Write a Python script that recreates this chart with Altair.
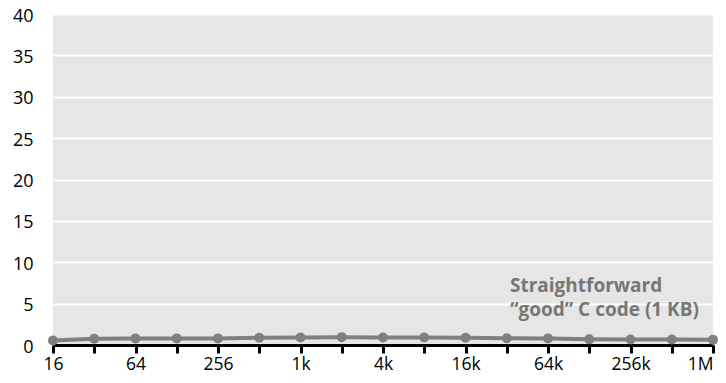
import altair as alt
import pandas as pd

sizes = ["16", "32", "64", "128", "256", "512", "1k", "2k", "4k", "8k", "16k", "32k", "64k", "128k", "256k", "512k", "1M"]
perf = [0.55, 0.75, 0.8, 0.8, 0.8, 0.88, 0.9, 0.95, 0.9, 0.9, 0.88, 0.82, 0.8, 0.68, 0.66, 0.66, 0.62]
note_lines = ["Straightforward", "\u201cgood\u201d C code (1 KB)"]

df = pd.DataFrame({"i": list(range(len(sizes))), "size": sizes, "perf": perf})

label_arr = "[" + ",".join("'" + s + "'" for s in sizes) + "]"
last = len(sizes) - 1
FONT = "Open Sans"

x_enc = alt.X("i:Q", scale=alt.Scale(domain=[0, last], nice=False, zero=False),
              axis=alt.Axis(values=list(range(len(sizes))), grid=False, title=None,
                            labelExpr=f"datum.value % 2 == 0 ? {label_arr}[datum.value] : ''",
                            labelAlign=alt.expr(f"datum.value == {last} ? 'right' : 'center'"),
                            domainColor="black", domainWidth=3, tickColor="black",
                            tickWidth=3, tickSize=8, labelFontSize=17.5, labelFont=FONT,
                            labelColor="black", labelPadding=2, labelFlush=False,
                            labelOverlap=False))
y_enc = alt.Y("perf:Q", scale=alt.Scale(domain=[0, 40], nice=False),
              axis=alt.Axis(values=list(range(0, 41, 5)), grid=True, gridColor="white",
                            gridWidth=2, domain=False, ticks=False, title=None,
                            labelFontSize=18, labelFont=FONT, labelColor="black",
                            labelPadding=20, labelOffset=2))

base = alt.Chart(df)
line = base.mark_line(color="#808080", strokeWidth=4).encode(x=x_enc, y=y_enc)
pts = base.mark_point(filled=True, color="#808080", size=100, opacity=1).encode(x=x_enc, y=y_enc)

note_df = pd.DataFrame({"t": note_lines, "k": [0, 1]})
note1 = alt.Chart(note_df).transform_filter("datum.k == 0").mark_text(
    align="left", baseline="alphabetic", font=FONT, fontWeight="bold", fontSize=19,
    color="#777777").encode(text="t:N", x=alt.value(457), y=alt.value(278))
note2 = alt.Chart(note_df).transform_filter("datum.k == 1").mark_text(
    align="left", baseline="alphabetic", font=FONT, fontWeight="bold", fontSize=19,
    color="#777777").encode(text="t:N", x=alt.value(457), y=alt.value(302))

chart = alt.layer(line, pts, note1, note2).properties(
    width=660, height=331,
    autosize=alt.AutoSizeParams(type="none"),
    padding={"left": 45, "top": 6, "right": 5, "bottom": 30},
).configure_view(fill="#e6e6e6", stroke=None)

chart.save("out.html", embed_options={"renderer": "svg", "actions": False})
